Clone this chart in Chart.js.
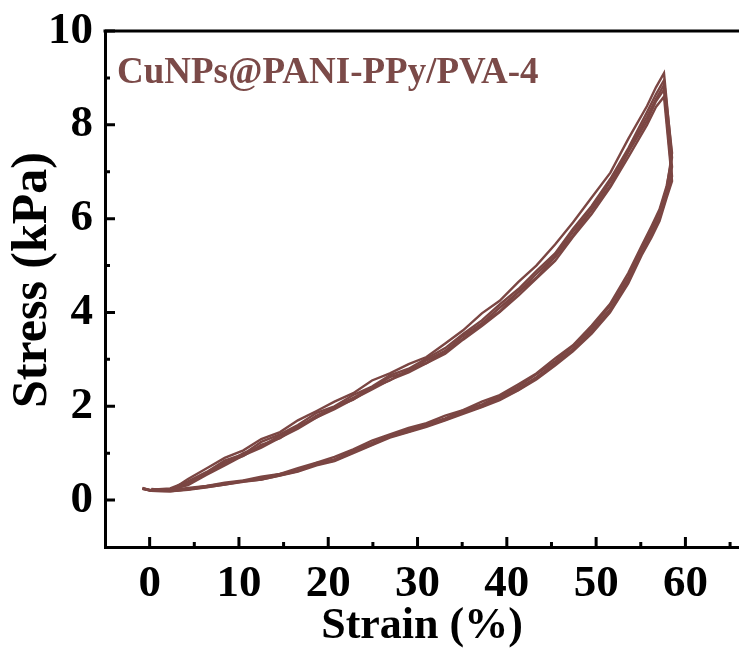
<!DOCTYPE html>
<html>
<head>
<meta charset="utf-8">
<script src="https://cdn.jsdelivr.net/npm/chart.js@4"></script>
<style>
  html, body { margin: 0; padding: 0; background: #fff; overflow: hidden; }
</style>
</head>
<body>
<canvas id="chart" width="739" height="649"></canvas>
<script>
// Strain (%) points, shared by every cycle
const loadStrain = [0.2, 2.3, 4.3, 6.4, 8.4, 10.5, 12.5, 14.6, 16.6, 18.7, 20.7, 22.8, 24.9, 26.9, 29.0, 31.0, 33.1, 35.1, 37.2, 39.2, 41.3, 43.3, 45.4, 47.4, 49.5, 51.6, 53.6, 55.7, 56.7, 57.6];
const unloadStrain = [58.5, 57.9, 57.1, 56.2, 55.1, 53.6, 51.55, 49.5, 47.4, 45.4, 43.3, 41.3, 39.2, 37.2, 35.1, 33.1, 31.0, 29.0, 26.9, 24.9, 22.8, 20.7, 18.7, 16.6, 14.6, 12.5, 10.5, 8.4, 6.4, 4.3, 2.3, 0.2, -0.8];

// Stress (kPa), loading branch of each cycle
const load1 = [0.24, 0.2, 0.45, 0.68, 0.9, 1.06, 1.3, 1.45, 1.7, 1.9, 2.1, 2.28, 2.55, 2.7, 2.9, 3.05, 3.34, 3.62, 3.98, 4.25, 4.65, 5.0, 5.45, 5.92, 6.45, 6.98, 7.7, 8.4, 8.8, 9.1];
const load2 = [0.22, 0.25, 0.4, 0.6, 0.84, 0.98, 1.24, 1.4, 1.6, 1.86, 2.0, 2.24, 2.42, 2.66, 2.8, 3.02, 3.24, 3.54, 3.83, 4.17, 4.5, 4.88, 5.26, 5.78, 6.27, 6.85, 7.5, 8.27, 8.65, 8.95];
const load3 = [0.2, 0.22, 0.36, 0.58, 0.76, 1.0, 1.14, 1.38, 1.54, 1.8, 1.98, 2.18, 2.4, 2.62, 2.74, 2.98, 3.18, 3.5, 3.77, 4.1, 4.44, 4.82, 5.2, 5.72, 6.2, 6.79, 7.44, 8.17, 8.55, 8.85];
const load4 = [0.23, 0.2, 0.34, 0.56, 0.8, 0.94, 1.18, 1.32, 1.58, 1.76, 1.98, 2.14, 2.4, 2.55, 2.78, 2.92, 3.17, 3.44, 3.76, 4.02, 4.43, 4.74, 5.18, 5.64, 6.18, 6.7, 7.41, 8.08, 8.5, 8.75];
const load5 = [0.21, 0.23, 0.32, 0.54, 0.74, 0.95, 1.12, 1.33, 1.52, 1.76, 1.94, 2.15, 2.36, 2.56, 2.72, 2.92, 3.12, 3.42, 3.71, 4.01, 4.36, 4.72, 5.1, 5.61, 6.1, 6.67, 7.31, 8.0, 8.38, 8.6];

// Stress (kPa), unloading branch of each cycle
const unload1 = [7.3, 6.7, 6.2, 5.84, 5.42, 4.84, 4.18, 3.72, 3.3, 3.02, 2.7, 2.47, 2.24, 2.1, 1.92, 1.8, 1.64, 1.54, 1.4, 1.27, 1.08, 0.92, 0.8, 0.68, 0.56, 0.5, 0.42, 0.37, 0.3, 0.26, 0.21, 0.2, 0.26];
const unload2 = [7.4, 6.65, 6.15, 5.76, 5.38, 4.76, 4.14, 3.66, 3.28, 2.96, 2.68, 2.42, 2.22, 2.04, 1.91, 1.74, 1.62, 1.5, 1.37, 1.22, 1.06, 0.86, 0.79, 0.63, 0.56, 0.46, 0.41, 0.34, 0.29, 0.23, 0.2, 0.21, 0.25];
const unload3 = [7.1, 6.55, 6.05, 5.7, 5.3, 4.7, 4.06, 3.62, 3.22, 2.92, 2.62, 2.38, 2.18, 2.02, 1.88, 1.72, 1.6, 1.48, 1.36, 1.2, 1.04, 0.87, 0.76, 0.64, 0.54, 0.46, 0.41, 0.35, 0.3, 0.24, 0.2, 0.2, 0.25];
const unload4 = [6.9, 6.5, 6.0, 5.64, 5.26, 4.66, 4.04, 3.58, 3.2, 2.89, 2.6, 2.35, 2.16, 1.99, 1.86, 1.71, 1.58, 1.46, 1.35, 1.18, 1.02, 0.84, 0.76, 0.62, 0.53, 0.44, 0.4, 0.33, 0.28, 0.23, 0.19, 0.2, 0.24];
const unload5 = [6.8, 6.45, 5.95, 5.6, 5.22, 4.62, 4.0, 3.55, 3.17, 2.87, 2.57, 2.34, 2.13, 1.98, 1.84, 1.7, 1.56, 1.45, 1.33, 1.17, 1.0, 0.83, 0.74, 0.61, 0.52, 0.44, 0.39, 0.33, 0.27, 0.22, 0.19, 0.2, 0.24];

const loads = [load1, load2, load3, load4, load5];
const unloads = [unload1, unload2, unload3, unload4, unload5];

// Axis ticks
const xMajor = [0, 10, 20, 30, 40, 50, 60];
const xMinor = [5, 15, 25, 35, 45, 55, 65];
const yMajor = [0, 2, 4, 6, 8, 10];
const yMinor = [1, 3, 5, 7, 9];

const LINE_COLOR = '#7b4643';
const SERIF = "'Liberation Serif', 'Times New Roman', serif";

function cycleData(i) {
  const up = loadStrain.map(function(x, k) { return { x: x, y: loads[i][k] }; });
  const down = unloadStrain.map(function(x, k) { return { x: x, y: unloads[i][k] }; });
  return up.concat(down);
}

// Inward tick marks, top frame line, y title and sample label
const framePlugin = {
  id: 'frame',
  afterDraw: function(chart) {
    const ctx = chart.ctx;
    const a = chart.chartArea;
    const xs = chart.scales.x;
    const ys = chart.scales.y;
    ctx.save();
    ctx.strokeStyle = '#000';
    ctx.lineWidth = 3;
    ctx.beginPath();
    ctx.moveTo(a.left - 1.5, a.top);
    ctx.lineTo(a.right, a.top);
    ctx.stroke();

    ctx.lineWidth = 3;
    ctx.beginPath();
    xMajor.forEach(function(v) {
      const px = xs.getPixelForValue(v);
      ctx.moveTo(px, a.bottom); ctx.lineTo(px, a.bottom - 10);
    });
    xMinor.forEach(function(v) {
      const px = xs.getPixelForValue(v);
      if (px < a.right) { ctx.moveTo(px, a.bottom); ctx.lineTo(px, a.bottom - 5); }
    });
    yMajor.forEach(function(v) {
      const py = ys.getPixelForValue(v);
      ctx.moveTo(a.left, py); ctx.lineTo(a.left + 10, py);
    });
    yMinor.forEach(function(v) {
      const py = ys.getPixelForValue(v);
      ctx.moveTo(a.left, py); ctx.lineTo(a.left + 5, py);
    });
    ctx.stroke();

    // y axis title
    ctx.fillStyle = '#000';
    ctx.font = 'bold 50px ' + SERIF;
    ctx.textAlign = 'center';
    ctx.textBaseline = 'middle';
    ctx.translate(33, 280);
    ctx.rotate(-Math.PI / 2);
    ctx.fillText('Stress (kPa)', 0, 0);
    ctx.setTransform(1, 0, 0, 1, 0, 0);

    ctx.fillStyle = '#7b4a48';
    ctx.font = 'bold 37px ' + SERIF;
    ctx.textAlign = 'left';
    ctx.fillText('CuNPs@PANI-PPy/PVA-4', 117, 73);
    ctx.restore();
  }
};

new Chart(document.getElementById('chart'), {
  type: 'scatter',
  data: {
    datasets: loads.map(function(_, i) {
      return {
        label: 'Cycle ' + (i + 1),
        data: cycleData(i),
        showLine: true,
        borderColor: LINE_COLOR,
        borderWidth: 2.4,
        pointRadius: 0,
        tension: 0,
        fill: false
      };
    })
  },
  options: {
    responsive: false,
    animation: false,
    layout: { padding: { top: 31, right: 0, left: 0, bottom: 0 } },
    plugins: {
      legend: { display: false },
      tooltip: { enabled: false }
    },
    scales: {
      x: {
        type: 'linear',
        min: -5,
        max: 66,
        afterFit: function(scale) {
          scale.height = 102;
          scale.paddingLeft = 0;
          scale.paddingRight = 0;
        },
        afterBuildTicks: function(scale) {
          scale.ticks = xMajor.map(function(v) { return { value: v }; });
        },
        border: { display: true, color: '#000', width: 3 },
        grid: { display: false, drawTicks: false },
        ticks: {
          color: '#000',
          padding: 10,
          maxRotation: 0,
          font: { family: SERIF, size: 45, weight: 'bold' }
        },
        title: {
          display: true,
          text: 'Strain (%)',
          color: '#000',
          padding: { top: 0, bottom: 0 },
          font: { family: SERIF, size: 44, weight: 'bold', lineHeight: 1 }
        }
      },
      y: {
        type: 'linear',
        min: -1,
        max: 10,
        afterFit: function(scale) {
          scale.width = 105;
          scale.paddingTop = 0;
          scale.paddingBottom = 0;
        },
        afterBuildTicks: function(scale) {
          scale.ticks = yMajor.map(function(v) { return { value: v }; });
        },
        border: { display: true, color: '#000', width: 3 },
        grid: { display: false, drawTicks: false },
        ticks: {
          color: '#000',
          padding: 12,
          font: { family: SERIF, size: 45, weight: 'bold' }
        }
      }
    }
  },
  plugins: [framePlugin]
});
</script>
</body>
</html>
